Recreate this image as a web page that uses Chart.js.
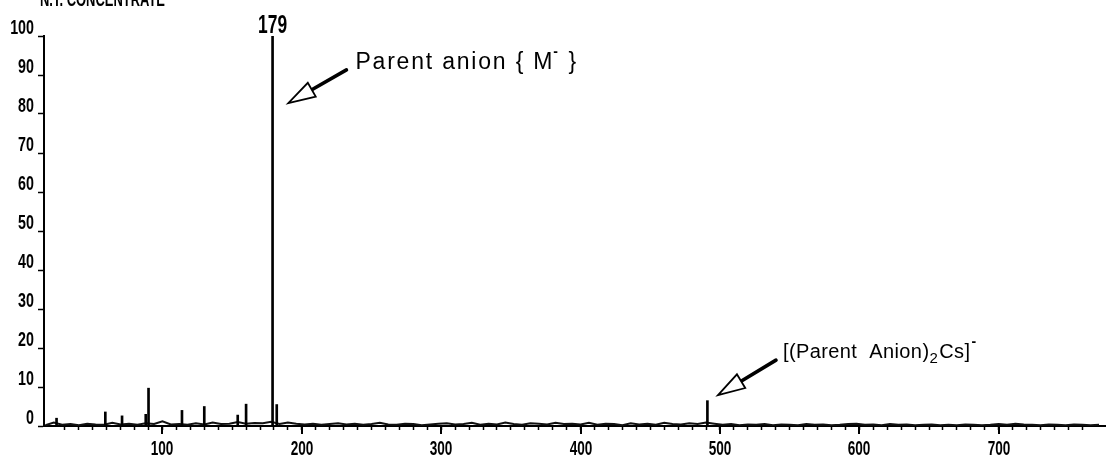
<!DOCTYPE html>
<html>
<head>
<meta charset="utf-8">
<title>Negative ion mass spectrum</title>
<script src="https://cdn.jsdelivr.net/npm/chart.js@4.4.1/dist/chart.umd.min.js"></script>
<style>
  html, body { margin: 0; padding: 0; background: #fff; }
  #wrap { width: 1106px; height: 458px; position: relative; }
</style>
</head>
<body>
<div id="wrap"><canvas id="spectrum" width="1106" height="458"></canvas></div>
<script>
// Stick peaks: m/z and relative intensity (%)
const stickMz        = [24,  59,  71,  88,  90,  114, 130, 154, 160, 179, 182, 491];
const stickIntensity = [2.0, 3.6, 2.6, 3.0, 9.7, 4.0, 5.0, 2.8, 5.6, 100, 5.5, 6.5];

// Baseline chatter, sampled every 6 m/z starting at 16
const noiseStart = 16;
const noiseStep = 6;
const noiseLevels = [
  0.2, 0.9, 0.3, 0.5, 0.2, 0.6, 0.4, 0.3, 0.8, 0.4, 0.6, 0.3, 0.7, 0.5, 1.2, 0.4,
  0.5, 0.3, 0.7, 0.4, 0.9, 0.5, 0.6, 1.0, 0.6, 0.8, 0.7, 1.1, 0.5, 0.9, 0.6, 0.4,
  0.6, 0.3, 0.5, 0.7, 0.4, 0.6, 0.3, 0.5, 0.8, 0.4, 0.3, 0.6, 0.5, 0.2, 0.4, 0.6,
  0.7, 0.4, 0.5, 0.8, 0.3, 0.6, 0.4, 0.9, 0.5, 0.3, 0.7, 0.6, 0.4, 0.8, 0.5, 0.6,
  0.4, 0.8, 0.3, 0.6, 0.5, 0.2, 0.7, 0.4, 0.6, 0.3, 0.8, 0.5, 0.4, 0.7, 0.5, 0.9,
  0.6, 0.3, 0.5, 0.2, 0.4, 0.3, 0.5, 0.2, 0.4, 0.3, 0.2, 0.5, 0.3, 0.4, 0.2, 0.3,
  0.5, 0.6, 0.3, 0.4, 0.2, 0.5, 0.3, 0.4, 0.2, 0.3, 0.4, 0.2, 0.3, 0.2, 0.4, 0.3,
  0.2, 0.3, 0.5, 0.3, 0.6, 0.4, 0.3, 0.2, 0.4, 0.3, 0.2, 0.4, 0.3, 0.2, 0.3
];

// Axis ranges and tick labels
const mzRange = [15, 777];
const yTicks = [0, 10, 20, 30, 40, 50, 60, 70, 80, 90, 100];
const xLabelTicks = [100, 200, 300, 400, 500, 600, 700];

// Texts
const headerText = 'N.T. CONCENTRATE';
const baseLabelMz = 179;
const parentLabel = 'Parent anion { M';
const clusterLabelA = '[(Parent  Anion)';
const clusterLabelB = 'Cs]';

const SANS = "'Liberation Sans', Arial, Helvetica, sans-serif";

const sticks = stickMz.map((m, i) => ({ x: m, y: stickIntensity[i] }));
const noise = noiseLevels.map((v, i) => ({ x: noiseStart + i * noiseStep, y: v }));

// tall, narrow plotter-style lettering
function plotterText(ctx, text, x, y, size, squeeze, align) {
  ctx.save();
  ctx.translate(x, y);
  ctx.scale(squeeze, 1);
  ctx.font = 'bold ' + size + 'px ' + SANS;
  ctx.textAlign = align;
  ctx.textBaseline = 'alphabetic';
  ctx.fillText(text, 0, 0);
  ctx.restore();
}

function arrow(ctx, tail, tip) {
  const dx = tail.x - tip.x, dy = tail.y - tip.y;
  const len = Math.hypot(dx, dy);
  const ux = dx / len, uy = dy / len;
  const px = -uy, py = ux;
  const headLen = 27, half = 8;
  const bx = tip.x + ux * headLen, by = tip.y + uy * headLen;
  ctx.save();
  ctx.strokeStyle = '#000';
  ctx.lineCap = 'round';
  ctx.lineWidth = 3.6;
  ctx.beginPath();
  ctx.moveTo(tail.x, tail.y);
  ctx.lineTo(bx - ux * 2, by - uy * 2);
  ctx.stroke();
  ctx.lineWidth = 1.8;
  ctx.lineJoin = 'miter';
  ctx.fillStyle = '#fff';
  ctx.beginPath();
  ctx.moveTo(tip.x, tip.y);
  ctx.lineTo(bx + px * half, by + py * half);
  ctx.lineTo(bx - px * half, by - py * half);
  ctx.closePath();
  ctx.fill();
  ctx.stroke();
  ctx.restore();
}

const annotations = {
  id: 'annotations',
  afterDraw(chart) {
    const { ctx, scales: { x, y } } = chart;
    const P = (mz, inten) => ({ x: x.getPixelForValue(mz), y: y.getPixelForValue(inten) });
    ctx.save();
    ctx.fillStyle = '#000';
    ctx.strokeStyle = '#000';

    // longer ticks and labels at the hundreds
    ctx.lineWidth = 2;
    x.ticks.filter(t => xLabelTicks.includes(t.value)).forEach(t => {
      const px = Math.round(x.getPixelForValue(t.value));
      ctx.beginPath();
      ctx.moveTo(px, y.bottom);
      ctx.lineTo(px, y.bottom + 8);
      ctx.stroke();
      plotterText(ctx, String(t.value), px, y.bottom + 29, 20, 0.68, 'center');
    });

    // intensity labels, sitting just above their ticks
    y.ticks.forEach(t => {
      const py = y.getPixelForValue(t.value);
      plotterText(ctx, String(t.value), 34, py - 2, 21, 0.68, 'right');
    });

    // header (runs off the top edge)
    ctx.save();
    ctx.font = 'bold 20px ' + SANS;
    const hw = ctx.measureText(headerText).width;
    ctx.restore();
    plotterText(ctx, headerText, 40, 6, 20, 125 / hw, 'left');

    // base peak label
    const bp = P(baseLabelMz, 100);
    plotterText(ctx, String(baseLabelMz), bp.x, bp.y - 3, 26, 0.67, 'center');

    // parent anion arrow + label
    const t1 = P(232, 91.3), h1 = P(190.3, 82.8);
    arrow(ctx, t1, h1);
    ctx.font = '23px ' + SANS;
    ctx.letterSpacing = '1.8px';
    ctx.textAlign = 'left';
    ctx.textBaseline = 'alphabetic';
    let lx = t1.x + 9, ly = t1.y - 1;
    ctx.fillText(parentLabel, lx, ly);
    lx += ctx.measureText(parentLabel).width;
    ctx.letterSpacing = '0px';
    ctx.font = 'bold 14px ' + SANS;
    ctx.fillText('-', lx - 1, ly - 13);
    lx += 6;
    ctx.font = '23px ' + SANS;
    ctx.letterSpacing = '1.8px';
    ctx.fillText(' }', lx, ly);
    ctx.letterSpacing = '0px';

    // cluster anion arrow + label
    const t2 = P(540.2, 16.9), h2 = P(498.6, 7.9);
    arrow(ctx, t2, h2);
    ctx.font = '20px ' + SANS;
    ctx.letterSpacing = '0.4px';
    let cx = t2.x + 7, cy = t2.y - 2;
    ctx.fillText(clusterLabelA, cx, cy);
    cx += ctx.measureText(clusterLabelA).width;
    ctx.font = '15px ' + SANS;
    ctx.fillText('2', cx, cy + 5);
    cx += ctx.measureText('2').width + 1;
    ctx.font = '20px ' + SANS;
    ctx.fillText(clusterLabelB, cx, cy);
    cx += ctx.measureText(clusterLabelB).width + 1;
    ctx.letterSpacing = '0px';
    ctx.font = 'bold 14px ' + SANS;
    ctx.fillText('-', cx, cy - 12);
    ctx.restore();
  }
};

new Chart(document.getElementById('spectrum'), {
  type: 'bar',
  data: {
    datasets: [
      {
        type: 'line',
        data: noise,
        borderColor: '#111',
        borderWidth: 2,
        pointRadius: 0,
        tension: 0,
        order: 2
      },
      {
        type: 'bar',
        data: sticks,
        backgroundColor: '#000',
        borderWidth: 0,
        barThickness: 2,
        grouped: false,
        order: 1
      }
    ]
  },
  options: {
    responsive: false,
    animation: false,
    events: [],
    layout: { padding: { top: 36, left: 0, right: 0, bottom: 0 } },
    plugins: { legend: { display: false }, tooltip: { enabled: false } },
    scales: {
      x: {
        type: 'linear',
        offset: false,
        min: mzRange[0],
        max: mzRange[1],
        afterBuildTicks(scale) {
          scale.ticks = scale.ticks.filter(t => t.value % 10 === 0);
        },
        afterFit(scale) { scale.height = 32; },
        border: { display: true, color: '#000', width: 2 },
        grid: { offset: false, drawOnChartArea: false, drawTicks: true, tickLength: 4, tickColor: '#000', tickWidth: 1.5 },
        ticks: { display: false, stepSize: 10, autoSkip: false, maxRotation: 0 }
      },
      y: {
        min: 0,
        max: 100,
        afterBuildTicks(scale) { scale.ticks = yTicks.map(v => ({ value: v })); },
        afterFit(scale) { scale.width = 44; },
        border: { display: true, color: '#000', width: 2 },
        grid: { drawOnChartArea: false, drawTicks: true, tickLength: 6, tickColor: '#000', tickWidth: 1.5 },
        ticks: { display: false }
      }
    }
  },
  plugins: [annotations]
});
</script>
</body>
</html>
